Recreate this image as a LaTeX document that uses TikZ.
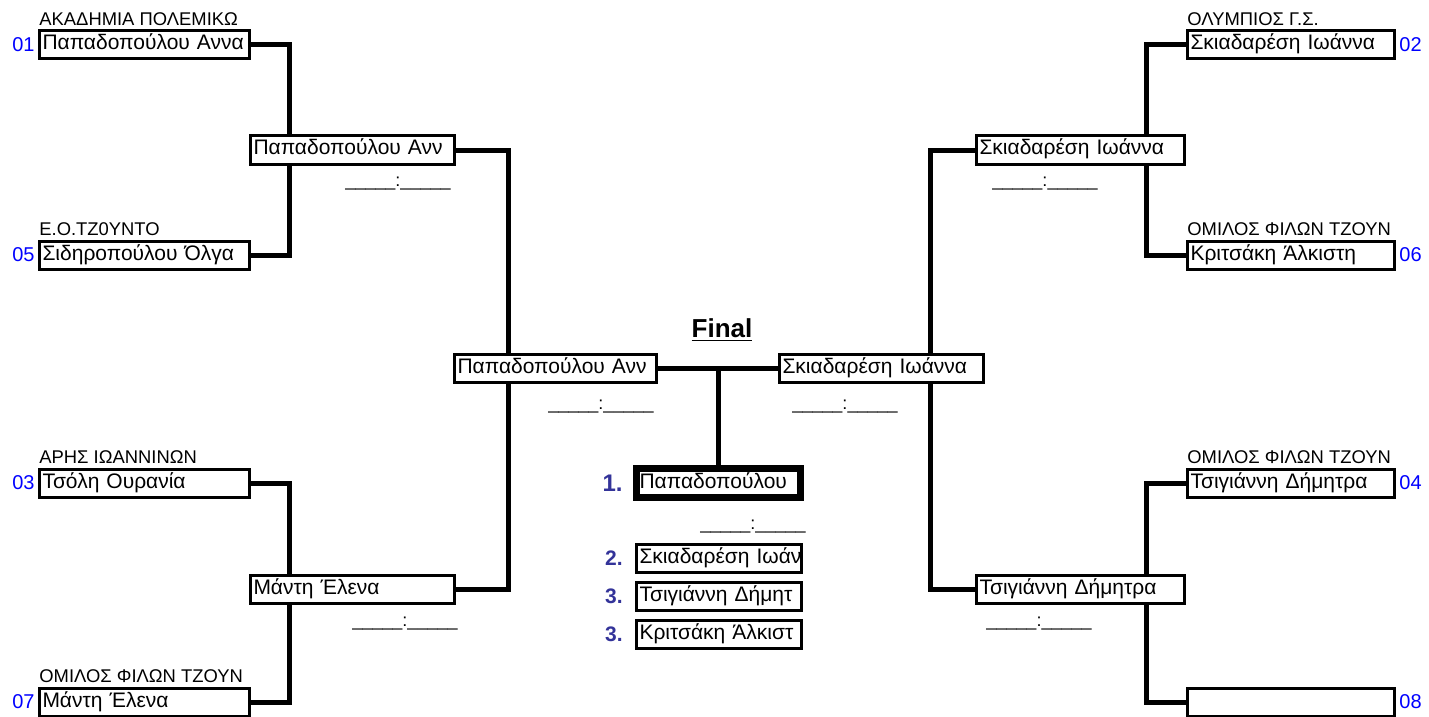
\documentclass[tikz,border=0pt]{standalone}
\usepackage{fontspec}
\setmainfont{Liberation Sans}
\usetikzlibrary{positioning,backgrounds}
\definecolor{seedblue}{RGB}{0,0,255}
\definecolor{placeblue}{RGB}{51,51,153}

\begin{document}
\begin{tikzpicture}[x=0.5pt,y=-0.5pt,
  box/.style={draw, line width=1.5pt, fill=white, inner xsep=1.5pt, inner ysep=0pt,
    minimum height=14pt, text height=7.5pt, text depth=2.5pt, text width=#1, align=left,
    font=\fontsize{10.5}{12}\selectfont,
    execute at begin node={\hbox\bgroup}, execute at end node={\egroup}},
  link/.style={line width=2.5pt},
  club/.style={anchor=base west, inner sep=0pt, font=\fontsize{9.2}{10}\selectfont},
  seed/.style={text=seedblue, inner sep=1pt, font=\fontsize{10}{11}\selectfont},
  score/.style={inner sep=0pt, font=\fontsize{9}{10}\selectfont},
  place/.style={text=placeblue, inner sep=0pt, font=\bfseries\fontsize{10.5}{12}\selectfont}]
\useasboundingbox (0,0) rectangle (1429,717);

% first round
\node[box=102pt] (a01) at (144.5,45) {Παπαδοπούλου Αννα};
\node[box=102pt] (a05) at (144.5,255) {Σιδηροπούλου Όλγα};
\node[box=102pt] (a03) at (144.5,483) {Τσόλη Ουρανία};
\node[box=102pt] (a07) at (144.5,702) {Μάντη Έλενα};
\node[box=100.5pt] (b02) at (1291,45) {Σκιαδαρέση Ιωάννα};
\node[box=100.5pt] (b06) at (1291,255) {Κριτσάκη Άλκιστη};
\node[box=100.5pt] (b04) at (1291,483) {Τσιγιάννη Δήμητρα};
\node[box=100.5pt] (b08) at (1291,702) {};

\node[seed, left=0.5pt of a01] (n01) {01};
\node[seed, left=0.5pt of a05] (n05) {05};
\node[seed, left=0.5pt of a03] (n03) {03};
\node[seed, left=0.5pt of a07] (n07) {07};
\node[seed, right=0.5pt of b02] (n02) {02};
\node[seed, right=0.5pt of b06] (n06) {06};
\node[seed, right=0.5pt of b04] (n04) {04};
\node[seed, right=0.5pt of b08] (n08) {08};

\node[club] (c01) at ([shift={(0.5pt,2pt)}]a01.north west) {ΑΚΑΔΗΜΙΑ ΠΟΛΕΜΙΚΩ};
\node[club] (c05) at ([shift={(0.5pt,2pt)}]a05.north west) {Ε.Ο.ΤΖ0ΥΝΤΟ};
\node[club] (c03) at ([shift={(0.5pt,2pt)}]a03.north west) {ΑΡΗΣ ΙΩΑΝΝΙΝΩΝ};
\node[club] (c07) at ([shift={(0.5pt,2pt)}]a07.north west) {ΟΜΙΛΟΣ ΦΙΛΩΝ ΤΖΟΥΝ};
\node[club] (c02) at ([shift={(0.5pt,2pt)}]b02.north west) {ΟΛΥΜΠΙΟΣ Γ.Σ.};
\node[club] (c06) at ([shift={(0.5pt,2pt)}]b06.north west) {ΟΜΙΛΟΣ ΦΙΛΩΝ ΤΖΟΥΝ};
\node[club] (c04) at ([shift={(0.5pt,2pt)}]b04.north west) {ΟΜΙΛΟΣ ΦΙΛΩΝ ΤΖΟΥΝ};

% second round and semi finals
\node[box=99pt] (a15) at (352.5,150) {Παπαδοπούλου Ανν};
\node[box=99pt] (a37) at (352.5,589) {Μάντη Έλενα};
\node[box=101pt] (b26) at (1080.5,150) {Σκιαδαρέση Ιωάννα};
\node[box=101pt] (b48) at (1080.5,589) {Τσιγιάννη Δήμητρα};
\node[box=98pt] (sa) at (555.5,368) {Παπαδοπούλου Ανν};
\node[box=99pt] (sb) at (881.5,368) {Σκιαδαρέση Ιωάννα};

\node[score] (r15) at (398,184) {\_\_\_\_\_:\_\_\_\_\_};
\node[score] (r37) at (405,624) {\_\_\_\_\_:\_\_\_\_\_};
\node[score] (r26) at (1045,184) {\_\_\_\_\_:\_\_\_\_\_};
\node[score] (r48) at (1039,624) {\_\_\_\_\_:\_\_\_\_\_};
\node[score] (rsa) at (601,407) {\_\_\_\_\_:\_\_\_\_\_};
\node[score] (rsb) at (845,407) {\_\_\_\_\_:\_\_\_\_\_};

% final
\node[inner sep=0pt, font=\bfseries\fontsize{13}{15}\selectfont] (fin) at (722,330) {\underline{Final}};
\node[box=79pt, line width=3.5pt, minimum height=14.5pt] (win) at (718.5,483) {Παπαδοπούλου};
\node[score] (rwin) at (753,527) {\_\_\_\_\_:\_\_\_\_\_};
\node[box=79.5pt] (pl2) at (719,558) {Σκιαδαρέση Ιωάν};
\node[box=79.5pt] (pl3a) at (719,596) {Τσιγιάννη Δήμητ};
\node[box=79.5pt] (pl3b) at (719,634) {Κριτσάκη Άλκιστ};
\node[place, font=\bfseries\fontsize{12}{14}\selectfont, left=5pt of win] (k1) {1.};
\node[place, left=6pt of pl2] (k2) {2.};
\node[place, left=6pt of pl3a] (k3a) {3.};
\node[place, left=6pt of pl3b] (k3b) {3.};

\begin{pgfonlayer}{background}
\draw[link] (a01.east) -- ++(38.5,0) |- (a05.east);
\draw[link] (a03.east) -- ++(38.5,0) |- (a07.east);
\draw[link] (b02.west) -- ++(-39.5,0) |- (b06.west);
\draw[link] (b04.west) -- ++(-39.5,0) |- (b08.west);
\draw[link] (a15.east) -- ++(52.5,0) |- (a37.east);
\draw[link] (b26.west) -- ++(-44.5,0) |- (b48.west);
\draw[link] (sa.east) -- (sb.west);
\draw[link] (sa.east -| win.north) -- (win.north);
\end{pgfonlayer}
\end{tikzpicture}
\end{document}
